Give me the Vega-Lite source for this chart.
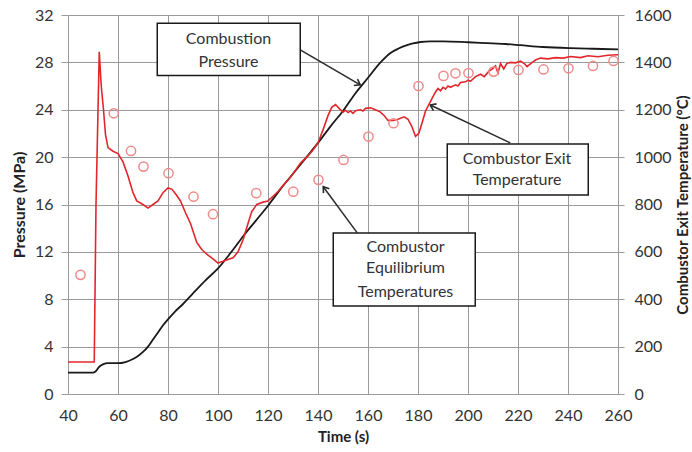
{
  "$schema": "https://vega.github.io/schema/vega-lite/v6.json",
  "width": 550,
  "height": 379,
  "autosize": {"type": "none"},
  "padding": {"left": 68, "top": 15, "right": 74, "bottom": 58},
  "background": "white",
  "config": {
    "font": "Lato",
    "view": {"stroke": null},
    "axis": {
      "gridColor": "#9a9a9a",
      "gridOpacity": 1,
      "gridWidth": 1,
      "tickColor": "#9a9a9a",
      "domain": false,
      "labelFlush": false,
      "labelFont": "Lato",
      "labelFontSize": 16,
      "labelColor": "#333333",
      "titleFont": "Lato",
      "titleFontSize": 15,
      "titleFontWeight": "bold",
      "titleColor": "#222222"
    }
  },
  "datasets": {
    "pressure": [
      {"t": 40, "p": 1.8}, {"t": 50, "p": 1.8}, {"t": 51, "p": 1.9}, {"t": 52.5, "p": 2.3},
      {"t": 54, "p": 2.5}, {"t": 56, "p": 2.6}, {"t": 60, "p": 2.6}, {"t": 63, "p": 2.7},
      {"t": 66, "p": 2.95}, {"t": 68, "p": 3.2}, {"t": 70, "p": 3.55}, {"t": 72, "p": 4.0},
      {"t": 74, "p": 4.6}, {"t": 76, "p": 5.2}, {"t": 78, "p": 5.8}, {"t": 80, "p": 6.3},
      {"t": 83, "p": 7.0}, {"t": 86, "p": 7.6}, {"t": 90, "p": 8.5}, {"t": 95, "p": 9.6},
      {"t": 100, "p": 10.6}, {"t": 105, "p": 11.9}, {"t": 110, "p": 13.3}, {"t": 115, "p": 14.6},
      {"t": 120, "p": 15.9}, {"t": 125, "p": 17.3}, {"t": 130, "p": 18.6}, {"t": 135, "p": 19.9},
      {"t": 140, "p": 21.2}, {"t": 145, "p": 22.6}, {"t": 150, "p": 23.9}, {"t": 155, "p": 25.4},
      {"t": 160, "p": 26.7}, {"t": 165, "p": 28.0}, {"t": 169, "p": 28.8}, {"t": 172, "p": 29.15},
      {"t": 175.6, "p": 29.45}, {"t": 178, "p": 29.6}, {"t": 181, "p": 29.72}, {"t": 185, "p": 29.78},
      {"t": 190, "p": 29.78}, {"t": 200, "p": 29.7}, {"t": 205, "p": 29.65}, {"t": 210, "p": 29.6},
      {"t": 215, "p": 29.55}, {"t": 221, "p": 29.45}, {"t": 230, "p": 29.3}, {"t": 241, "p": 29.2},
      {"t": 250, "p": 29.15}, {"t": 260, "p": 29.1}
    ],
    "temp": [
      {"t": 40, "c": 135}, {"t": 50.5, "c": 135}, {"t": 51.2, "c": 800}, {"t": 52.5, "c": 1445},
      {"t": 53.3, "c": 1300}, {"t": 54.2, "c": 1200}, {"t": 55, "c": 1095}, {"t": 56, "c": 1040},
      {"t": 58, "c": 1025}, {"t": 60, "c": 1015}, {"t": 62, "c": 980}, {"t": 64, "c": 920},
      {"t": 66, "c": 850}, {"t": 67.5, "c": 815}, {"t": 70, "c": 800}, {"t": 72, "c": 785},
      {"t": 74, "c": 800}, {"t": 76, "c": 815}, {"t": 78, "c": 850}, {"t": 80, "c": 870},
      {"t": 81.5, "c": 865}, {"t": 83, "c": 845}, {"t": 85, "c": 815}, {"t": 87, "c": 765},
      {"t": 89, "c": 720}, {"t": 91.5, "c": 640}, {"t": 93.5, "c": 610}, {"t": 95.5, "c": 590},
      {"t": 98, "c": 570}, {"t": 100, "c": 553}, {"t": 102, "c": 560}, {"t": 104, "c": 568},
      {"t": 106, "c": 575}, {"t": 108, "c": 600}, {"t": 110, "c": 650}, {"t": 112, "c": 720},
      {"t": 113.5, "c": 770}, {"t": 115.5, "c": 800}, {"t": 118, "c": 810}, {"t": 120, "c": 815},
      {"t": 122, "c": 835}, {"t": 124, "c": 855}, {"t": 126, "c": 880}, {"t": 129, "c": 915},
      {"t": 131, "c": 945}, {"t": 133, "c": 975}, {"t": 136, "c": 1005}, {"t": 138, "c": 1030},
      {"t": 140, "c": 1060}, {"t": 142, "c": 1115}, {"t": 144, "c": 1175}, {"t": 145.5, "c": 1210},
      {"t": 147, "c": 1222}, {"t": 148.5, "c": 1205}, {"t": 150, "c": 1190}, {"t": 151, "c": 1198},
      {"t": 152, "c": 1188}, {"t": 153, "c": 1195}, {"t": 154, "c": 1185}, {"t": 155, "c": 1196},
      {"t": 157, "c": 1200}, {"t": 158, "c": 1195}, {"t": 159, "c": 1206}, {"t": 161, "c": 1208},
      {"t": 163, "c": 1200}, {"t": 165, "c": 1190}, {"t": 166.5, "c": 1175}, {"t": 168, "c": 1155},
      {"t": 170, "c": 1155}, {"t": 172, "c": 1160}, {"t": 174.5, "c": 1170}, {"t": 176, "c": 1160},
      {"t": 177.5, "c": 1130}, {"t": 179, "c": 1088}, {"t": 180.3, "c": 1100}, {"t": 181.5, "c": 1140},
      {"t": 183, "c": 1195}, {"t": 185, "c": 1235}, {"t": 187, "c": 1275}, {"t": 188, "c": 1290},
      {"t": 189, "c": 1280}, {"t": 190, "c": 1295}, {"t": 191, "c": 1288}, {"t": 192, "c": 1300},
      {"t": 193, "c": 1295}, {"t": 195, "c": 1305}, {"t": 196, "c": 1300}, {"t": 197, "c": 1315},
      {"t": 199, "c": 1318}, {"t": 200, "c": 1325}, {"t": 201, "c": 1320}, {"t": 203, "c": 1340},
      {"t": 205, "c": 1350}, {"t": 206.5, "c": 1340}, {"t": 208.3, "c": 1362}, {"t": 210, "c": 1375},
      {"t": 211, "c": 1385}, {"t": 212, "c": 1355}, {"t": 213, "c": 1395}, {"t": 214.3, "c": 1372},
      {"t": 215.5, "c": 1395}, {"t": 217, "c": 1400}, {"t": 219, "c": 1398}, {"t": 221, "c": 1405},
      {"t": 222.5, "c": 1395}, {"t": 223.6, "c": 1382}, {"t": 225.7, "c": 1400}, {"t": 227, "c": 1410},
      {"t": 229, "c": 1418}, {"t": 232, "c": 1415}, {"t": 235, "c": 1420}, {"t": 238, "c": 1418},
      {"t": 241, "c": 1425}, {"t": 245, "c": 1420}, {"t": 248, "c": 1428}, {"t": 252, "c": 1424},
      {"t": 256, "c": 1430}, {"t": 260, "c": 1432}
    ],
    "equilibrium": [
      {"t": 45, "c": 503}, {"t": 58.3, "c": 1185}, {"t": 65.2, "c": 1026}, {"t": 70.2, "c": 960},
      {"t": 80.2, "c": 932}, {"t": 90.2, "c": 833}, {"t": 98, "c": 759}, {"t": 115.3, "c": 848},
      {"t": 130.1, "c": 854}, {"t": 140.2, "c": 904}, {"t": 150.2, "c": 988}, {"t": 160.2, "c": 1087},
      {"t": 170.2, "c": 1143}, {"t": 180.2, "c": 1300}, {"t": 190.2, "c": 1343}, {"t": 195, "c": 1354},
      {"t": 200.2, "c": 1355}, {"t": 210.2, "c": 1361}, {"t": 220.2, "c": 1368}, {"t": 230.2, "c": 1370},
      {"t": 240.2, "c": 1375}, {"t": 250, "c": 1385}, {"t": 258.2, "c": 1406}
    ],
    "boxes": [
      {"t1": 75.7, "t2": 132.9, "p1": 26.9, "p2": 31.3},
      {"t1": 191.7, "t2": 248.1, "p1": 16.8, "p2": 21.1},
      {"t1": 146.1, "t2": 202.9, "p1": 7.43, "p2": 13.6}
    ],
    "labels": [
      {"t": 104.2, "p": 29.96, "text": "Combustion"},
      {"t": 104.2, "p": 28.07, "text": "Pressure"},
      {"t": 219.6, "p": 19.82, "text": "Combustor Exit"},
      {"t": 219.6, "p": 18.07, "text": "Temperature"},
      {"t": 175.0, "p": 12.44, "text": "Combustor"},
      {"t": 175.0, "p": 10.62, "text": "Equilibrium"},
      {"t": 175.0, "p": 8.64, "text": "Temperatures"}
    ],
    "arrows": [
      {"t1": 132.9, "p1": 29.05, "t2": 156.9, "p2": 26.1, "angle": 120},
      {"t1": 216.9, "p1": 21.2, "t2": 184.9, "p2": 24.4, "angle": 295},
      {"t1": 155.7, "p1": 13.6, "t2": 142.1, "p2": 17.5, "angle": 323}
    ]
  },
  "layer": [
    {
      "layer": [
        {
          "data": {"name": "pressure"},
          "mark": {"type": "line", "color": "#1a1a1a", "strokeWidth": 1.8, "interpolate": "monotone"},
          "encoding": {
            "x": {
              "field": "t", "type": "quantitative",
              "scale": {"domain": [40, 260], "nice": false},
              "axis": {
                "title": "Time (s)",
                "values": [40, 60, 80, 100, 120, 140, 160, 180, 200, 220, 240, 260],
                "grid": true, "tickSize": 0, "labelPadding": 13, "titlePadding": 6
              }
            },
            "y": {
              "field": "p", "type": "quantitative",
              "scale": {"domain": [0, 32], "nice": false},
              "axis": {
                "title": "Pressure (MPa)",
                "titleFontSize": 16,
                "orient": "left",
                "values": [0, 4, 8, 12, 16, 20, 24, 28, 32],
                "grid": true, "tickSize": 7, "labelPadding": 8, "titlePadding": 7
              }
            }
          }
        },
        {
          "data": {"name": "boxes"},
          "mark": {"type": "rect", "fill": "white", "stroke": "#1a1a1a", "strokeWidth": 1.5},
          "encoding": {
            "x": {"field": "t1", "type": "quantitative"},
            "x2": {"field": "t2"},
            "y": {"field": "p1", "type": "quantitative"},
            "y2": {"field": "p2"}
          }
        },
        {
          "data": {"name": "labels"},
          "mark": {"type": "text", "font": "Lato", "fontSize": 16, "color": "#333333", "baseline": "middle", "align": "center"},
          "encoding": {
            "x": {"field": "t", "type": "quantitative"},
            "y": {"field": "p", "type": "quantitative"},
            "text": {"field": "text"}
          }
        },
        {
          "data": {"name": "arrows"},
          "mark": {"type": "rule", "color": "#2a2a2a", "strokeWidth": 1.5},
          "encoding": {
            "x": {"field": "t1", "type": "quantitative"},
            "x2": {"field": "t2"},
            "y": {"field": "p1", "type": "quantitative"},
            "y2": {"field": "p2"}
          }
        },
        {
          "data": {"name": "arrows"},
          "mark": {"type": "point", "shape": "M -0.7 1 L 0 0 L 0.7 1", "filled": false, "stroke": "#2a2a2a", "strokeWidth": 1.6, "size": 110, "opacity": 1},
          "encoding": {
            "x": {"field": "t2", "type": "quantitative"},
            "y": {"field": "p2", "type": "quantitative"},
            "angle": {"field": "angle", "type": "quantitative", "scale": null}
          }
        }
      ]
    },
    {
      "layer": [
        {
          "data": {"name": "temp"},
          "mark": {"type": "line", "color": "#e3262b", "strokeWidth": 1.6},
          "encoding": {
            "x": {"field": "t", "type": "quantitative"},
            "y": {
              "field": "c", "type": "quantitative",
              "scale": {"domain": [0, 1600], "nice": false},
              "axis": {
                "title": "Combustor Exit Temperature (°C)",
                "orient": "right",
                "format": "d",
                "values": [0, 200, 400, 600, 800, 1000, 1200, 1400, 1600],
                "grid": false, "tickSize": 6, "labelPadding": 10, "titlePadding": 4,
                "titleAngle": 270, "titleBaseline": "top"
              }
            }
          }
        },
        {
          "data": {"name": "equilibrium"},
          "mark": {"type": "point", "shape": "circle", "filled": false, "stroke": "#f08a8a", "strokeWidth": 1.5, "size": 85, "opacity": 1},
          "encoding": {
            "x": {"field": "t", "type": "quantitative"},
            "y": {"field": "c", "type": "quantitative"}
          }
        }
      ]
    }
  ],
  "resolve": {"scale": {"y": "independent"}, "axis": {"y": "independent"}}
}
